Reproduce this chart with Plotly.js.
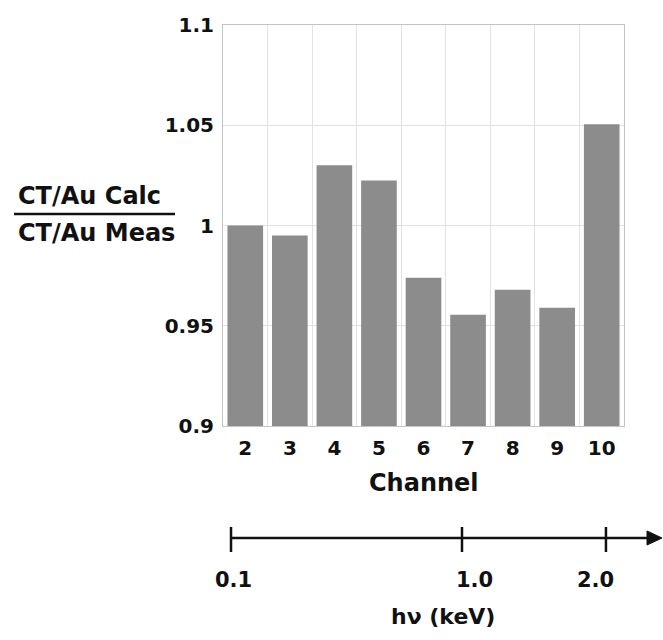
<!DOCTYPE html>
<html>
<head>
<meta charset="utf-8">
<script src="https://cdn.plot.ly/plotly-3.0.1.min.js"></script>
<style>html,body{margin:0;padding:0;background:#fff;}#chart{width:663px;height:640px;}</style>
</head>
<body>
<div id="chart"></div>
<script>
const channels = ["2","3","4","5","6","7","8","9","10"];
const ratios = [1.000, 0.995, 1.030, 1.0225, 0.974, 0.9555, 0.968, 0.959, 1.0505];
const yTickVals = [0.9, 0.95, 1, 1.05, 1.1];
const yTickText = ["0.9", "0.95", "1", "1.05", "1.1"];
const energyLabels = ["0.1", "1.0", "2.0"];
const energyTickX = [0.02, 0.596, 0.955];
const energyLabelX = [0.025, 0.626, 0.928];

const FONT = "DejaVu Sans";
const txt = (size) => ({family: FONT, size: size, color: "#111", weight: "bold"});

const shapes = [
  {type: "line", xref: "paper", yref: "paper", x0: -0.5212, x1: -0.1197, y0: 0.5287, y1: 0.5287, line: {color: "#111", width: 2.5}},
  {type: "line", xref: "paper", yref: "paper", x0: 0.02, x1: 1.06, y0: -0.2793, y1: -0.2793, line: {color: "#111", width: 2.5}},
  {type: "path", xref: "paper", yref: "paper", path: "M 1.0948 -0.2793 L 1.0574 -0.2618 L 1.0574 -0.2968 Z", fillcolor: "#111", line: {color: "#111", width: 1}}
];
energyTickX.forEach(x => shapes.push({type: "line", xref: "paper", yref: "paper", x0: x, x1: x, y0: -0.2519, y1: -0.3142, line: {color: "#111", width: 2.5}}));

const annotations = [
  {text: "CT/Au Calc", xref: "paper", yref: "paper", x: -0.334, y: 0.5736, xanchor: "center", yanchor: "middle", showarrow: false, font: txt(24)},
  {text: "CT/Au Meas", xref: "paper", yref: "paper", x: -0.3167, y: 0.4825, xanchor: "center", yanchor: "middle", showarrow: false, font: txt(24)},
  {text: "Channel", xref: "paper", yref: "paper", x: 0.501, y: -0.142, xanchor: "center", yanchor: "middle", showarrow: false, font: txt(24)},
  {text: "hν (keV)", xref: "paper", yref: "paper", x: 0.5486, y: -0.476, xanchor: "center", yanchor: "middle", showarrow: false, font: txt(22)}
];
energyLabels.forEach((t, i) => annotations.push({text: t, xref: "paper", yref: "paper", x: energyLabelX[i], y: -0.384, xanchor: "center", yanchor: "middle", showarrow: false, font: txt(21)}));

const data = [{
  type: "bar",
  x: channels,
  y: ratios,
  marker: {color: "#8c8c8c", line: {width: 0}},
  hoverinfo: "x+y"
}];

const layout = {
  width: 663, height: 640,
  margin: {l: 223, r: 39, t: 25, b: 214},
  paper_bgcolor: "#fff", plot_bgcolor: "#fff",
  showlegend: false,
  bargap: 0.2,
  xaxis: {
    type: "category",
    tickson: "boundaries",
    showgrid: true, gridcolor: "#e2e2e6", gridwidth: 1,
    showline: true, linecolor: "#c4c4c8", linewidth: 1, mirror: true,
    ticks: "", tickfont: txt(20), ticklabelstandoff: 4,
    zeroline: false
  },
  yaxis: {
    range: [0.9, 1.1],
    tickvals: yTickVals, ticktext: yTickText,
    showgrid: true, gridcolor: "#e2e2e6", gridwidth: 1,
    showline: true, linecolor: "#c4c4c8", linewidth: 1, mirror: true,
    ticks: "", tickfont: txt(20), ticklabelstandoff: 4,
    zeroline: false
  },
  shapes: shapes,
  annotations: annotations
};

Plotly.newPlot("chart", data, layout, {displayModeBar: false, staticPlot: true});
</script>
</body>
</html>
